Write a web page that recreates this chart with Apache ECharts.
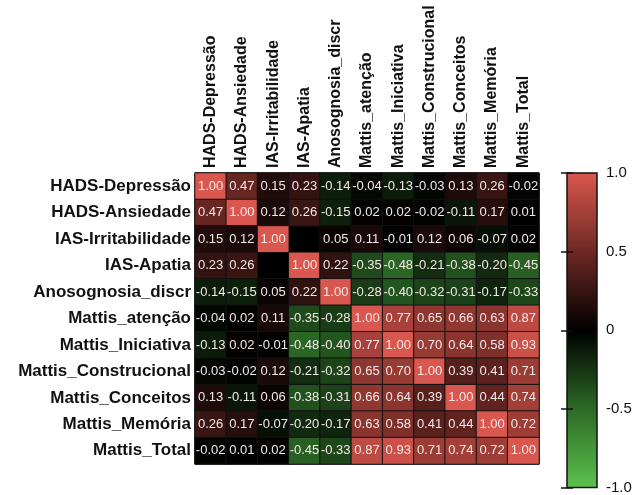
<!DOCTYPE html>
<html>
<head>
<meta charset="utf-8">
<script src="https://cdn.jsdelivr.net/npm/echarts@6/dist/echarts.min.js"></script>
<style>html,body{margin:0;padding:0;background:#fff}#c{width:643px;height:495px}</style>
</head>
<body>
<div id="c"></div>
<script>
var variables = ['HADS-Depressão','HADS-Ansiedade','IAS-Irritabilidade','IAS-Apatia','Anosognosia_discr','Mattis_atenção','Mattis_Iniciativa','Mattis_Construcional','Mattis_Conceitos','Mattis_Memória','Mattis_Total'];
var rowHADSDep   = [1.00, 0.47, 0.15, 0.23, -0.14, -0.04, -0.13, -0.03, 0.13, 0.26, -0.02];
var rowHADSAns   = [0.47, 1.00, 0.12, 0.26, -0.15, 0.02, 0.02, -0.02, -0.11, 0.17, 0.01];
var rowIASIrr    = [0.15, 0.12, 1.00, null, 0.05, 0.11, -0.01, 0.12, 0.06, -0.07, 0.02];
var rowIASApa    = [0.23, 0.26, null, 1.00, 0.22, -0.35, -0.48, -0.21, -0.38, -0.20, -0.45];
var rowAnosog    = [-0.14, -0.15, 0.05, 0.22, 1.00, -0.28, -0.40, -0.32, -0.31, -0.17, -0.33];
var rowAtencao   = [-0.04, 0.02, 0.11, -0.35, -0.28, 1.00, 0.77, 0.65, 0.66, 0.63, 0.87];
var rowIniciat   = [-0.13, 0.02, -0.01, -0.48, -0.40, 0.77, 1.00, 0.70, 0.64, 0.58, 0.93];
var rowConstr    = [-0.03, -0.02, 0.12, -0.21, -0.32, 0.65, 0.70, 1.00, 0.39, 0.41, 0.71];
var rowConceitos = [0.13, -0.11, 0.06, -0.38, -0.31, 0.66, 0.64, 0.39, 1.00, 0.44, 0.74];
var rowMemoria   = [0.26, 0.17, -0.07, -0.20, -0.17, 0.63, 0.58, 0.41, 0.44, 1.00, 0.72];
var rowTotal     = [-0.02, 0.01, 0.02, -0.45, -0.33, 0.87, 0.93, 0.71, 0.74, 0.72, 1.00];
var colorbarTicks = [-1, -0.5, 0, 0.5, 1];
var colorbarLabels = ['-1.0', '-0.5', '0', '0.5', '1.0'];

var rows = [rowHADSDep, rowHADSAns, rowIASIrr, rowIASApa, rowAnosog, rowAtencao, rowIniciat, rowConstr, rowConceitos, rowMemoria, rowTotal];
var data = [];
rows.forEach(function (r, i) {
  r.forEach(function (v, j) {
    if (v !== null) data.push([j, i, v]);
  });
});

var FONT = '"Liberation Sans", Arial, sans-serif';
var chart = echarts.init(document.getElementById('c'));
chart.setOption({
  backgroundColor: '#fff',
  animation: false,
  grid: [
    {left: 195, top: 173, width: 344, height: 291, show: true, backgroundColor: '#000', borderColor: '#000', borderWidth: 1},
    {left: 567, top: 173, width: 30, height: 315, show: true, backgroundColor: 'transparent', borderColor: '#111', borderWidth: 1.5, z: 5}
  ],
  xAxis: [
    {type: 'category', gridIndex: 0, data: variables, position: 'top',
     axisLine: {show: false}, axisTick: {show: false}, splitLine: {show: false},
     axisLabel: {rotate: -90, interval: 0, fontFamily: FONT, fontWeight: 'bold', fontSize: 16, color: '#111', margin: 5}},
    {type: 'value', gridIndex: 1, show: false, min: 0, max: 1}
  ],
  yAxis: [
    {type: 'category', gridIndex: 0, data: variables, inverse: true,
     axisLine: {show: false}, axisTick: {show: false}, splitLine: {show: false},
     axisLabel: {interval: 0, fontFamily: FONT, fontWeight: 'bold', fontSize: 17, color: '#111', margin: 4}},
    {type: 'value', gridIndex: 1, min: -1, max: 1, interval: 0.5, position: 'right', z: 6,
     axisLine: {show: false}, splitLine: {show: false},
     axisTick: {show: true, inside: true, length: 6, lineStyle: {color: '#111', width: 1.5}},
     axisLabel: {fontFamily: FONT, fontSize: 15, color: '#111', margin: 9,
       formatter: function (v) { var k = colorbarTicks.indexOf(v); return k >= 0 ? colorbarLabels[k] : ''; }}},
    {type: 'value', gridIndex: 1, min: -1, max: 1, interval: 0.5, position: 'left', z: 6,
     axisLine: {show: false}, splitLine: {show: false}, axisLabel: {show: false},
     axisTick: {show: true, inside: true, length: 6, lineStyle: {color: '#111', width: 1.5}}}
  ],
  visualMap: {
    type: 'continuous', min: -1, max: 1, calculable: false, hoverLink: false,
    orient: 'vertical', left: 567, top: 173, itemWidth: 30, itemHeight: 315, z: 1,
    padding: 0, text: ['', ''], showLabel: false, seriesIndex: 0,
    inRange: {color: ['#5dc24d', '#2c6a26', '#000000', '#6e2824', '#d9574e']}
  },
  series: [{
    type: 'heatmap', xAxisIndex: 0, yAxisIndex: 0, data: data,
    itemStyle: {borderColor: '#111', borderWidth: 1},
    label: {show: true, fontFamily: FONT, fontSize: 13, color: '#f3e8e8',
      formatter: function (p) { return p.value[2].toFixed(2); }},
    emphasis: {disabled: true}
  }]
});
</script>
</body>
</html>
